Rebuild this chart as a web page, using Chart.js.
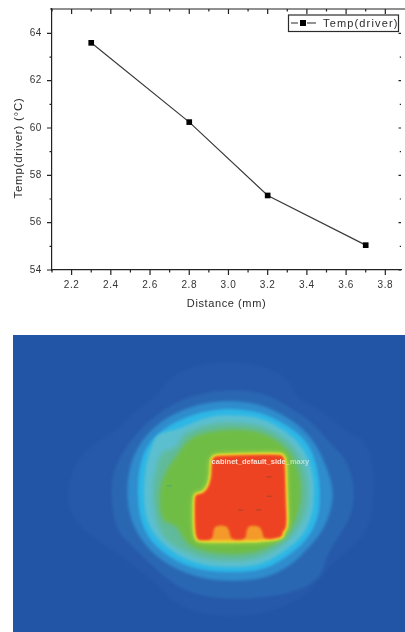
<!DOCTYPE html>
<html>
<head>
<meta charset="utf-8">
<title>Temp(driver) vs Distance</title>
<script src="https://cdn.jsdelivr.net/npm/chart.js@4"></script>
<style>
    html, body { margin: 0; padding: 0; background: #fff; }
    #lineWrap { position: absolute; left: 0; top: 0; width: 405px; height: 320px; filter: blur(0.4px); }
    #heatWrap { position: absolute; left: 13px; top: 335px; width: 392px; height: 297px; }
</style>
</head>
<body>
<div id="lineWrap"><canvas id="lineChart"></canvas></div>
<div id="heatWrap"><canvas id="heatChart"></canvas></div>
<script>
// Line chart data
const distance = [2.3, 2.8, 3.2, 3.7];
const tempDriver = [63.6, 60.25, 57.15, 55.05];
const seriesName = 'Temp(driver)';
const xTitle = 'Distance (mm)';
const yTitle = 'Temp(driver) (°C)';
const xMajor = [2.2, 2.4, 2.6, 2.8, 3.0, 3.2, 3.4, 3.6, 3.8];
const xMinor = [2.1, 2.3, 2.5, 2.7, 2.9, 3.1, 3.3, 3.5, 3.7];
const yMajor = [54, 56, 58, 60, 62, 64];
const yMinor = [55, 57, 59, 61, 63];

// Heat map contours, outer to inner
const contourOuter = [[700,95],[800,110],[870,150],[900,210],[960,240],[1010,280],[1060,320],[1110,340],[1135,420],[1135,520],[1120,620],[1060,680],[1000,730],[960,790],[900,840],[800,880],[700,890],[600,880],[520,850],[470,790],[380,720],[310,670],[240,620],[195,560],[190,500],[210,420],[260,360],[330,320],[400,250],[470,200],[510,140],[600,105]];
const contourBlue1 = [[700,183],[800,195],[880,240],[950,290],[1000,350],[1050,400],[1075,480],[1070,570],[1020,650],[990,700],[970,770],[900,810],[800,830],[700,835],[600,825],[520,790],[450,730],[390,670],[340,620],[325,520],[330,440],[370,360],[440,280],[520,225],[600,195]];
const contourBlue2 = [[700,218],[790,230],[880,275],[940,330],[975,390],[1005,470],[1010,530],[985,610],[940,670],[880,730],[800,770],[700,780],[600,770],[500,730],[430,670],[385,590],[372,500],[385,410],[420,340],[480,280],[560,240],[630,222]];
const contourCyan = [[700,243],[790,255],[870,295],[930,345],[960,420],[970,500],[965,580],[930,650],[860,710],[790,745],[700,752],[600,745],[520,715],[450,660],[415,590],[405,500],[415,410],[440,350],[500,295],[580,260],[640,247]];
const contourTeal = [[700,262],[790,272],[860,310],[915,360],[945,430],[952,500],[945,575],[915,640],[850,695],[780,730],[700,737],[610,730],[530,700],[465,645],[432,585],[425,500],[432,420],[450,360],[470,318],[530,310],[590,280],[640,266]];
const contourTealGreen = [[700,285],[780,292],[850,325],[900,375],[928,440],[935,500],[928,565],[895,630],[840,680],[770,712],[700,718],[615,712],[545,685],[490,650],[462,590],[450,500],[462,430],[480,375],[530,365],[540,325],[600,298],[650,288]];
const contourGreen = [[700,305],[780,312],[845,345],[885,390],[905,440],[912,500],[905,560],[880,620],[830,665],[765,692],[700,697],[620,690],[555,665],[530,605],[480,595],[472,510],[490,440],[530,385],[565,335],[620,315]];
const contourHotBase = [[640,396],[650,390],[750,388],[845,386],[856,392],[860,420],[862,520],[866,612],[852,625],[852,642],[790,650],[700,652],[600,652],[588,645],[584,600],[584,516],[590,510],[612,506],[630,480],[636,445],[636,410]];
const contourHot = [[640,396],[650,390],[750,388],[845,386],[856,392],[860,420],[862,520],[866,612],[852,625],[852,642],[795,650],[792,625],[782,608],[750,606],[742,622],[740,650],[694,650],[690,622],[680,606],[648,606],[640,622],[638,650],[600,652],[588,645],[584,600],[584,516],[590,510],[612,506],[630,480],[636,445],[636,410]];
const darkSpots = [[725,558],[780,558],[812,455],[812,515]];
const greenSpots = [[505,483]];
const heatLabel = 'cabinet_default_side_maxy';
const heatLabelFaint = 'maxy';

// Minor and major tick marks, top spine, y title and legend box
const frameOrigin = {
    id: 'frameOrigin',
    beforeDraw(chart) {
        chart.ctx.letterSpacing = '0.6px';
    },
    afterDraw(chart) {
        const { ctx, chartArea, scales } = chart;
        const { left, right, top, bottom } = chartArea;
        ctx.save();
        ctx.strokeStyle = '#222';
        ctx.lineWidth = 1.2;
        ctx.beginPath();
        ctx.moveTo(left - 2, top);
        ctx.lineTo(405, top);
        const xTick = (v, len) => {
            const x = scales.x.getPixelForValue(v);
            ctx.moveTo(x, bottom); ctx.lineTo(x, bottom + len);
            ctx.moveTo(x, top); ctx.lineTo(x, top + len);
        };
        const yTick = (v, len) => {
            const y = scales.y.getPixelForValue(v);
            ctx.moveTo(left, y); ctx.lineTo(left - len, y);
            ctx.moveTo(right, y); ctx.lineTo(right - len * 0.5, y);
        };
        xMajor.forEach(v => xTick(v, 5));
        xMinor.forEach(v => xTick(v, 2.5));
        yMajor.forEach(v => yTick(v, 5));
        yMinor.forEach(v => yTick(v, 2.5));
        ctx.stroke();

        // Y axis title sits below the middle of the axis in the original
        ctx.save();
        ctx.translate(19, 148);
        ctx.rotate(-Math.PI / 2);
        ctx.fillStyle = '#2b2b2b';
        ctx.font = '11.5px "Liberation Sans"';
        ctx.letterSpacing = '0.75px';
        ctx.textAlign = 'center';
        ctx.textBaseline = 'middle';
        ctx.fillText(yTitle, 0, 0);
        ctx.restore();

        // Legend
        ctx.fillStyle = '#fff';
        ctx.fillRect(288.5, 15, 110, 16.5);
        ctx.strokeStyle = '#2b2b2b';
        ctx.lineWidth = 1.2;
        ctx.strokeRect(288.5, 15, 110, 16.5);
        ctx.beginPath();
        ctx.moveTo(291, 23); ctx.lineTo(298, 23);
        ctx.moveTo(307, 23); ctx.lineTo(316, 23);
        ctx.stroke();
        ctx.fillStyle = '#000';
        ctx.fillRect(300, 20, 6, 6);
        ctx.fillStyle = '#2b2b2b';
        ctx.font = '11px "Liberation Sans"';
        ctx.letterSpacing = '1.15px';
        ctx.textBaseline = 'middle';
        ctx.textAlign = 'left';
        ctx.fillText(seriesName, 323, 23.5);
        ctx.restore();
    }
};

new Chart(document.getElementById('lineChart'), {
    type: 'scatter',
    data: {
        datasets: [{
            label: seriesName,
            data: distance.map((x, i) => ({ x, y: tempDriver[i] })),
            showLine: true,
            borderColor: '#3a3a3a',
            borderWidth: 1.2,
            pointStyle: 'rect',
            pointRadius: 4,
            pointBackgroundColor: '#000',
            pointBorderColor: '#000',
            pointBorderWidth: 0
        }]
    },
    options: {
        responsive: true,
        maintainAspectRatio: false,
        animation: false,
        layout: { padding: { top: 9 } },
        plugins: { legend: { display: false }, tooltip: { enabled: false } },
        scales: {
            x: {
                type: 'linear',
                min: 2.1,
                max: 3.88,
                afterBuildTicks: s => { s.ticks = xMajor.map(value => ({ value })); },
                afterFit: s => { s.height = 50; s.paddingRight = 0; s.paddingLeft = 0; },
                grid: { display: false },
                border: { color: '#222', width: 1.2 },
                ticks: {
                    autoSkip: false,
                    maxRotation: 0,
                    padding: 1,
                    color: '#333',
                    font: { family: 'Liberation Sans', size: 10 },
                    callback: v => v.toFixed(1)
                },
                title: {
                    display: true,
                    text: xTitle,
                    color: '#2b2b2b',
                    font: { family: 'Liberation Sans', size: 11 },
                    padding: { top: 0, bottom: 9 }
                }
            },
            y: {
                type: 'linear',
                min: 54,
                max: 65.03,
                afterBuildTicks: s => { s.ticks = yMajor.map(value => ({ value })); },
                afterFit: s => { s.width = 52; },
                grid: { display: false },
                border: { color: '#222', width: 1.2 },
                ticks: {
                    autoSkip: false,
                    padding: 2,
                    color: '#333',
                    font: { family: 'Liberation Sans', size: 10 }
                }
            }
        }
    },
    plugins: [frameOrigin]
});

// Fills each contour dataset as a smoothed closed shape through its scaled points
const contourFill = {
    id: 'contourFill',
    beforeDatasetsDraw(chart) {
        const { ctx, chartArea } = chart;
        ctx.save();
        ctx.beginPath();
        ctx.rect(chartArea.left, chartArea.top, chartArea.width, chartArea.height);
        ctx.clip();
        chart.data.datasets.forEach((ds, i) => {
            if (!ds.contour) return;
            const pts = chart.getDatasetMeta(i).data;
            const n = pts.length;
            ctx.beginPath();
            ctx.moveTo((pts[n - 1].x + pts[0].x) / 2, (pts[n - 1].y + pts[0].y) / 2);
            pts.forEach((p, k) => {
                const q = pts[(k + 1) % n];
                ctx.quadraticCurveTo(p.x, p.y, (p.x + q.x) / 2, (p.y + q.y) / 2);
            });
            ctx.closePath();
            ctx.filter = `blur(${ds.contour.blur}px)`;
            ctx.fillStyle = ds.contour.fill;
            ctx.fill();
            if (ds.contour.edge) {
                ctx.strokeStyle = ds.contour.fill;
                ctx.lineWidth = ds.contour.edge;
                ctx.lineJoin = 'round';
                ctx.stroke();
            }
            ctx.filter = 'none';
        });
        ctx.restore();
    },
    afterDatasetsDraw(chart) {
        const { ctx, scales } = chart;
        ctx.save();
        ctx.filter = 'blur(0.4px)';
        ctx.font = 'bold 7px "Liberation Sans"';
        ctx.textBaseline = 'middle';
        ctx.textAlign = 'left';
        const x = scales.x.getPixelForValue(635);
        const y = scales.y.getPixelForValue(410);
        const whole = ctx.measureText(heatLabel).width;
        const stretch = (scales.x.getPixelForValue(935) - x) / whole;
        ctx.translate(x, y);
        ctx.scale(stretch, 1);
        ctx.fillStyle = 'rgba(255, 240, 230, 0.9)';
        ctx.fillText(heatLabel.slice(0, -heatLabelFaint.length), 0, 0);
        ctx.fillStyle = 'rgba(225, 240, 225, 0.7)';
        ctx.fillText(heatLabelFaint, whole - ctx.measureText(heatLabelFaint).width, 0);
        ctx.restore();
    }
};

const contourSet = (points, fill, blur, edge) => ({
    data: points.map(p => ({ x: p[0], y: p[1] })),
    pointRadius: 0,
    showLine: false,
    contour: { fill, blur, edge }
});

const spotSet = (points, color) => ({
    data: points.map(p => ({ x: p[0], y: p[1] })),
    pointStyle: 'line',
    pointRadius: 2.5,
    pointBorderColor: color,
    pointBorderWidth: 1,
    showLine: false
});

new Chart(document.getElementById('heatChart'), {
    type: 'scatter',
    data: {
        datasets: [
            contourSet(contourOuter, '#2659a9', 1.5),
            contourSet(contourBlue1, '#2a67b3', 1.5),
            contourSet(contourBlue2, '#2f8ccd', 1.5),
            contourSet(contourCyan, '#2db7e6', 1.5),
            contourSet(contourTeal, '#5cbfd0', 1.5),
            contourSet(contourTealGreen, '#60bb9c', 2),
            contourSet(contourGreen, '#70bd45', 2),
            contourSet(contourHotBase, '#a4cf3e', 2, 7),
            contourSet(contourHotBase, '#f6ec33', 1.3, 4),
            contourSet(contourHotBase, '#f39a2a', 1, 1),
            contourSet(contourHot, '#ee4323', 0.9),
            spotSet(darkSpots, '#a8402a'),
            spotSet(greenSpots, '#4aa87a')
        ]
    },
    options: {
        responsive: true,
        maintainAspectRatio: false,
        animation: false,
        layout: { padding: 0 },
        plugins: { legend: { display: false }, tooltip: { enabled: false } },
        scales: {
            x: { type: 'linear', min: 39, max: 1215, display: false },
            y: { type: 'linear', min: 30, max: 921, reverse: true, display: false }
        }
    },
    plugins: [{
        id: 'heatBackground',
        beforeDraw(chart) {
            chart.ctx.fillStyle = '#2355a7';
            chart.ctx.fillRect(0, 0, chart.width, chart.height);
        }
    }, contourFill]
});
</script>
</body>
</html>
